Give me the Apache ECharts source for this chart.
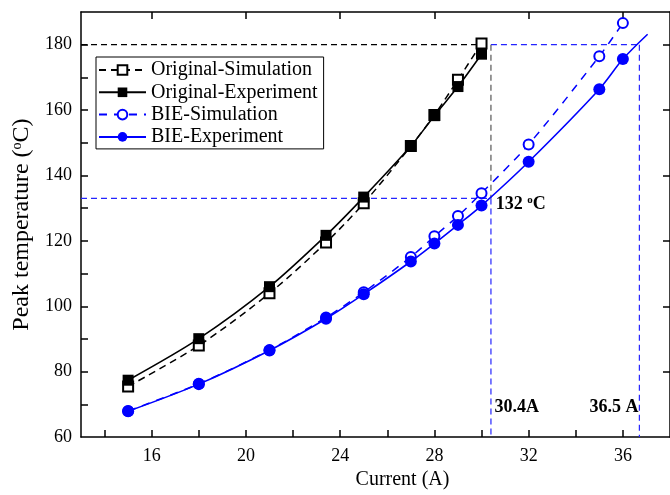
<!DOCTYPE html>
<html>
<head>
<meta charset="utf-8">
<script src="https://cdn.jsdelivr.net/npm/echarts@6/dist/echarts.min.js"></script>
<style>html,body{margin:0;padding:0;background:#fff}#c{width:670px;height:495px}</style>
</head>
<body>
<div id="c"></div>
<script>
// ---- data ----
const currentsOrig = [15, 18, 21, 23.4, 25, 27, 28, 29, 30];
const origSim = [75.5, 88.0, 104.0, 119.5, 131.5, 149.0, 158.5, 169.3, 180.4];
const origExp = [77.4, 90.1, 106.0, 121.7, 133.4, 149.0, 158.3, 167.2, 177.1];
const currentsBIE = [15, 18, 21, 23.4, 25, 27, 28, 29, 30, 32, 35, 36];
const bieSim = [68.0, 76.3, 86.6, 96.6, 104.3, 115.1, 121.4, 127.6, 134.6, 149.5, 176.5, 186.6];
const bieExp = [67.9, 76.2, 86.5, 96.2, 103.7, 113.7, 119.2, 124.9, 130.8, 144.2, 166.4, 175.6];
const bieExpFitEnd = [37.05, 183.2];
const seriesNames = ['Original-Simulation', 'Original-Experiment', 'BIE-Simulation', 'BIE-Experiment'];
// reference (limit) lines
const limitTemp = 180, crossTemp = 133;
const origLimitCurrent = 30.4, bieLimitCurrent = 36.7;
const xMin = 13, xMax = 38, yMin = 60, yMax = 190;
const xTickValues = [14, 16, 18, 20, 22, 24, 26, 28, 30, 32, 34, 36];
const xLabelValues = [16, 20, 24, 28, 32, 36];
const yTickValues = [70, 80, 90, 100, 110, 120, 130, 140, 150, 160, 170, 180];
const yLabelValues = [60, 80, 100, 120, 140, 160, 180];
const topTickValues = [16, 20, 24, 28, 32, 36];
const rightTickValues = [80, 100, 120, 140, 160, 180];
const annotationTexts = ['{b|132 }{s|o}{b|C}', '30.4A', '36.5 A'];

const FONT = 'Liberation Serif';
const BLUE = '#0000ff';
const REFBLUE = '#2424ff';

function pairs(xs, ys) { return xs.map((x, i) => [x, ys[i]]); }
function refLine(data, color) {
  return {
    type: 'line', data: data, symbol: 'none', silent: true, z: 1,
    lineStyle: { color: color, width: 1.2, type: [6, 4] }, animation: false
  };
}

const chart = echarts.init(document.getElementById('c'), null, { renderer: 'canvas' });
const axisLine = { show: true, onZero: false, lineStyle: { color: '#000', width: 1.5 } };
chart.setOption({
  animation: false,
  grid: { left: 81, right: -3, top: 12, bottom: 55, containLabel: false },
  legend: {
    data: seriesNames, orient: 'vertical', left: 96, top: 57,
    padding: [3, 6, 2, 2], itemGap: 2.3, itemWidth: 47, itemHeight: 12,
    borderColor: '#000', borderWidth: 1, backgroundColor: '#fff',
    textStyle: { fontFamily: FONT, fontSize: 20, color: '#000' }
  },
  xAxis: [{
    type: 'value', min: xMin, max: xMax, position: 'bottom',
    name: 'Current (A)', nameLocation: 'middle', nameGap: 26,
    nameTextStyle: { fontFamily: FONT, fontSize: 20, color: '#000', padding: [0, 0, 0, 54] },
    axisLine: axisLine,
    axisTick: { show: true, inside: true, length: 7, lineStyle: { color: '#000', width: 1.5 }, customValues: xTickValues },
    axisLabel: { fontFamily: FONT, fontSize: 18, color: '#000', margin: 10, customValues: xLabelValues },
    splitLine: { show: false }
  }, {
    type: 'value', min: xMin, max: xMax, position: 'top',
    axisLine: axisLine,
    axisTick: { show: true, inside: true, length: 7, lineStyle: { color: '#000', width: 1.5 }, customValues: topTickValues },
    axisLabel: { show: false }, splitLine: { show: false }
  }],
  yAxis: [{
    type: 'value', min: yMin, max: yMax, position: 'left',
    name: '{n|Peak temperature (}{s|o}{n|C)}', nameLocation: 'middle', nameGap: 44,
    nameTextStyle: {
      color: '#000',
      rich: {
        n: { fontFamily: FONT, fontSize: 24, color: '#000' },
        s: { fontFamily: FONT, fontSize: 14, color: '#000', verticalAlign: 'top', padding: [0, 0, 9, 0] }
      }
    },
    axisLine: axisLine,
    axisTick: { show: true, inside: true, length: 7, lineStyle: { color: '#000', width: 1.5 }, customValues: yTickValues },
    axisLabel: { fontFamily: FONT, fontSize: 18, color: '#000', margin: 9, customValues: yLabelValues },
    splitLine: { show: false }
  }, {
    type: 'value', min: yMin, max: yMax, position: 'right',
    axisLine: axisLine,
    axisTick: { show: true, inside: true, length: 7, lineStyle: { color: '#000', width: 1.5 }, customValues: rightTickValues },
    axisLabel: { show: false }, splitLine: { show: false }
  }],
  series: [
    refLine([[xMin, limitTemp], [origLimitCurrent, limitTemp]], '#000'),
    refLine([[origLimitCurrent, limitTemp], [bieLimitCurrent, limitTemp]], REFBLUE),
    refLine([[origLimitCurrent, limitTemp], [origLimitCurrent, crossTemp]], '#555'),
    refLine([[origLimitCurrent, crossTemp], [origLimitCurrent, yMin]], REFBLUE),
    refLine([[xMin, crossTemp], [origLimitCurrent, crossTemp]], REFBLUE),
    refLine([[bieLimitCurrent, limitTemp], [bieLimitCurrent, yMin]], REFBLUE),
    {
      name: seriesNames[0], type: 'line', data: pairs(currentsOrig, origSim), smooth: 0.3, z: 3,
      symbol: 'emptyRect', symbolSize: 10, showAllSymbol: true,
      lineStyle: { color: '#000', width: 1.5, type: [7, 5] },
      itemStyle: { color: '#000', borderWidth: 2, borderColor: '#000' }
    },
    {
      name: seriesNames[1], type: 'line', data: pairs(currentsOrig, origExp), smooth: 0.3, z: 4,
      symbol: 'rect', symbolSize: 11,
      lineStyle: { color: '#000', width: 1.6 },
      itemStyle: { color: '#000' }
    },
    {
      name: seriesNames[2], type: 'line', data: pairs(currentsBIE, bieSim), smooth: 0.3, z: 3,
      symbol: 'emptyCircle', symbolSize: 10,
      lineStyle: { color: BLUE, width: 1.5, type: [8, 7] },
      itemStyle: { color: BLUE, borderWidth: 2, borderColor: BLUE }
    },
    {
      name: seriesNames[3], type: 'line',
      data: pairs(currentsBIE, bieExp).concat([{ value: bieExpFitEnd, symbol: 'none' }]),
      smooth: 0.3, z: 4,
      symbol: 'circle', symbolSize: 12,
      lineStyle: { color: BLUE, width: 1.6 },
      itemStyle: { color: BLUE }
    },
    {
      type: 'scatter', silent: true, z: 5, symbolSize: 0,
      itemStyle: { opacity: 1 },
      label: {
        show: true, fontFamily: FONT, fontSize: 18, fontWeight: 'bold', color: '#000', opacity: 1,
        formatter: p => annotationTexts[p.dataIndex],
        rich: {
          b: { fontFamily: FONT, fontSize: 18, fontWeight: 'bold', color: '#000' },
          s: { fontFamily: FONT, fontSize: 11, fontWeight: 'bold', color: '#000', verticalAlign: 'top', padding: [0, 0, 8, 0] }
        }
      },
      data: [
        { value: [30.6, 131.3], label: { position: 'right', distance: 0 } },
        { value: [30.55, 69.0], label: { position: 'right', distance: 0 } },
        { value: [36.66, 69.0], label: { position: 'left', distance: 0 } }
      ]
    }
  ]
});
</script>
</body>
</html>
